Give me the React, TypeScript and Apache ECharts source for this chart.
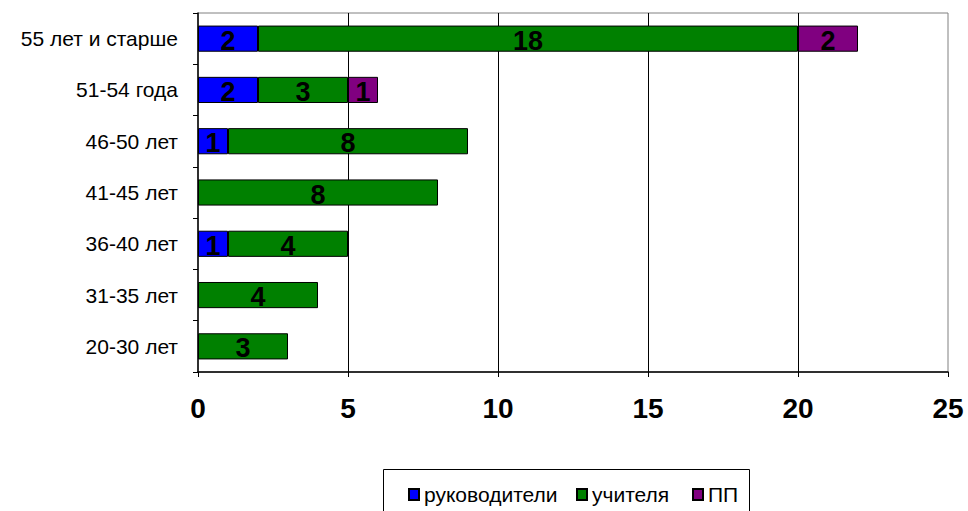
import React, { useEffect, useRef } from "react";
import * as echarts from "echarts";

const categories = ["20-30 лет", "31-35 лет", "36-40 лет", "41-45 лет", "46-50 лет", "51-54 года", "55 лет и старше"];
const seriesNames = ["руководители", "учителя", "ПП"];
const leaders = [null, null, 1, null, 1, 2, 2];
const teachers = [3, 4, 4, 8, 8, 3, 18];
const pp = [null, null, null, null, null, 1, 2];
const xTicks = { min: 0, max: 25, interval: 5 };

const FONT = "Arial, 'Liberation Sans', sans-serif";
const COLORS = ["#0000ff", "#008000", "#800080"];
const LEGEND_X = [408, 576, 692];

export default function App() {
  const ref = useRef<HTMLDivElement>(null);
  useEffect(() => {
    if (!ref.current) return;
    const chart = echarts.init(ref.current, null, { renderer: "svg" });
    const label = {
      show: true,
      position: "inside",
      offset: [0, 2],
      color: "#000",
      fontFamily: FONT,
      fontWeight: "bold",
      fontSize: 27,
    };
    const mk = (name: string, data: (number | null)[], color: string) => ({
      name,
      type: "bar",
      stack: "total",
      data,
      barCategoryGap: "49%",
      itemStyle: { color, borderColor: "#000", borderWidth: 1 },
      label,
    });
    chart.setOption({
      animation: false,
      backgroundColor: "#fff",
      grid: {
        left: 198,
        top: 13,
        right: 20,
        bottom: 139,
        show: true,
        borderColor: "#808080",
        borderWidth: 1,
        containLabel: false,
      },
      xAxis: {
        type: "value",
        min: xTicks.min,
        max: xTicks.max,
        interval: xTicks.interval,
        axisLine: { show: true, lineStyle: { color: "#000", width: 1.5 } },
        axisTick: { show: true, length: 5, lineStyle: { color: "#000" } },
        axisLabel: {
          color: "#000",
          fontFamily: FONT,
          fontWeight: "bold",
          fontSize: 28,
          margin: 22,
        },
        splitLine: { show: true, showMinLine: false, showMaxLine: false, lineStyle: { color: "#000", width: 1 } },
      },
      yAxis: {
        type: "category",
        data: categories,
        axisLine: { show: true, lineStyle: { color: "#000", width: 1.5 } },
        axisTick: { show: true, length: 5, lineStyle: { color: "#000" } },
        axisLabel: { color: "#000", fontFamily: FONT, fontSize: 21, margin: 20 },
        splitLine: { show: false },
      },
      legend: seriesNames.map((n, i) => ({
        left: LEGEND_X[i],
        top: 484,
        padding: 0,
        itemWidth: 10,
        itemHeight: 11,
        icon: "rect",
        selectedMode: false,
        textStyle: { color: "#000", fontFamily: FONT, fontSize: 21 },
        data: [n],
      })),
      graphic: [
        {
          type: "rect",
          shape: { x: 383.5, y: 469.5, width: 366, height: 60 },
          style: { fill: "none", stroke: "#000", lineWidth: 1 },
          silent: true,
        },
      ],
      series: [mk(seriesNames[0], leaders, COLORS[0]), mk(seriesNames[1], teachers, COLORS[1]), mk(seriesNames[2], pp, COLORS[2])],
    });
    return () => chart.dispose();
  }, []);
  return <div ref={ref} style={{ position: "fixed", left: 0, top: 0, width: 968, height: 511 }} />;
}
